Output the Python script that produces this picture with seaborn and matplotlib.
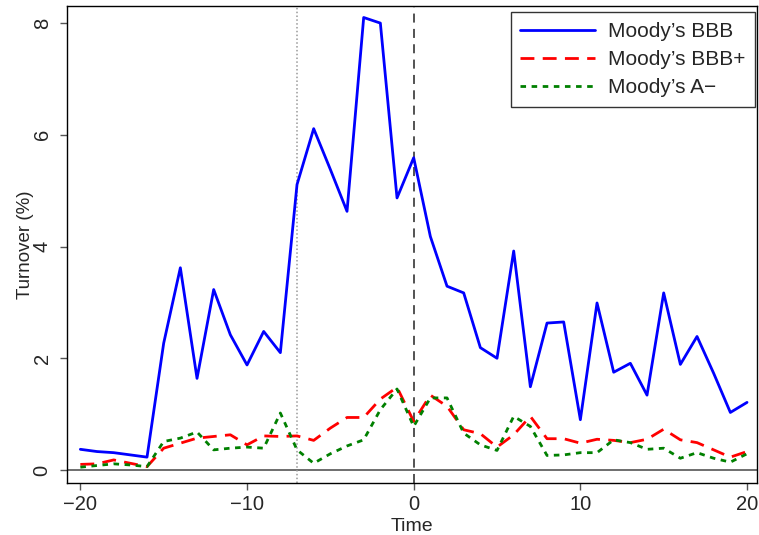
#!/usr/bin/env python3
"""
Turnover around rating events
"""
import numpy as np
import pandas as pd
import seaborn as sns
import matplotlib
matplotlib.use("Agg")
import matplotlib.pyplot as plt

time = list(range(-20, 21))

bbb = [0.37, 0.33, 0.31, 0.27, 0.23, 2.27, 3.62, 1.64, 3.23, 2.42,
       1.88, 2.48, 2.10, 5.11, 6.11, 5.38, 4.63, 8.10, 8.00, 4.87,
       5.59, 4.18, 3.29, 3.17, 2.19, 2.00, 3.92, 1.49, 2.63, 2.65,
       0.90, 2.99, 1.75, 1.91, 1.34, 3.17, 1.89, 2.39, 1.73, 1.03,
       1.21]

bbb_plus = [0.10, 0.11, 0.18, 0.12, 0.06, 0.39, 0.48, 0.57, 0.60, 0.63,
            0.45, 0.61, 0.60, 0.61, 0.53, 0.75, 0.94, 0.94, 1.27, 1.48,
            0.87, 1.34, 1.14, 0.72, 0.65, 0.41, 0.63, 0.96, 0.56, 0.56,
            0.48, 0.55, 0.53, 0.49, 0.55, 0.73, 0.54, 0.49, 0.36, 0.23,
            0.33]

a_minus = [0.05, 0.08, 0.11, 0.09, 0.06, 0.51, 0.57, 0.68, 0.36, 0.39,
           0.41, 0.39, 1.02, 0.36, 0.12, 0.29, 0.43, 0.54, 1.08, 1.45,
           0.78, 1.29, 1.29, 0.66, 0.45, 0.35, 0.96, 0.78, 0.26, 0.27,
           0.31, 0.31, 0.54, 0.49, 0.37, 0.39, 0.21, 0.31, 0.21, 0.14,
           0.29]

series_names = ["Moody\u2019s BBB", "Moody\u2019s BBB+", "Moody\u2019s A\u2212"]
x_ticks = [-20, -10, 0, 10, 20]
y_ticks = [0, 2, 4, 6, 8]

sns.set_style("white")
plt.rcParams["font.family"] = ["Liberation Sans", "DejaVu Sans"]

fig = plt.figure(figsize=(7.59, 5.35), dpi=100)
ax = fig.add_axes([0.0883, 0.0972, 0.9091, 0.892])

df = pd.DataFrame({"Time": time, series_names[0]: bbb,
                   series_names[1]: bbb_plus, series_names[2]: a_minus})

ax.axhline(0, color="#555555", lw=1.2, zorder=1)
ax.axvline(-7, color="#999999", lw=1.1, ls=(0, (1, 1.5)), zorder=1)
ax.axvline(0, color="#444444", lw=1.3, ls=(0, (5, 3.5)), zorder=1)

styles = [("#0000ff", "-"), ("#ff0000", (0, (5, 3))), ("#008000", (0, (2, 2)))]
for name, (col, ls) in zip(series_names, styles):
    sns.lineplot(data=df, x="Time", y=name, ax=ax, color=col,
                 linestyle=ls, lw=2.0, label=name)

ax.set_xlim(-20.8, 20.6)
ax.set_ylim(-0.233, 8.31)
ax.set_xticks(x_ticks)
ax.set_xticklabels(["\u221220", "\u221210", "0", "10", "20"])
ax.set_yticks(y_ticks)
ax.tick_params(axis="both", direction="out", length=5, width=1,
               color="#555555", labelsize=14.5, bottom=True, left=True)
ax.tick_params(axis="y", labelrotation=90, pad=6)
for lab in ax.get_yticklabels():
    lab.set_va("center")

for sp in ax.spines.values():
    sp.set_color("black")
    sp.set_linewidth(1.0)

ax.set_xlabel("Time", fontsize=14, labelpad=3)
ax.set_ylabel("Turnover (%)", fontsize=13.5, labelpad=-1)

leg = ax.legend(loc="upper right", bbox_to_anchor=(0.9965, 0.986),
                fontsize=15, frameon=True, fancybox=False, edgecolor="black",
                handlelength=3.6, handletextpad=0.6, borderpad=0.45,
                labelspacing=0.44, borderaxespad=0)
leg.get_frame().set_linewidth(1.0)

plt.savefig("out.png", dpi=100)
